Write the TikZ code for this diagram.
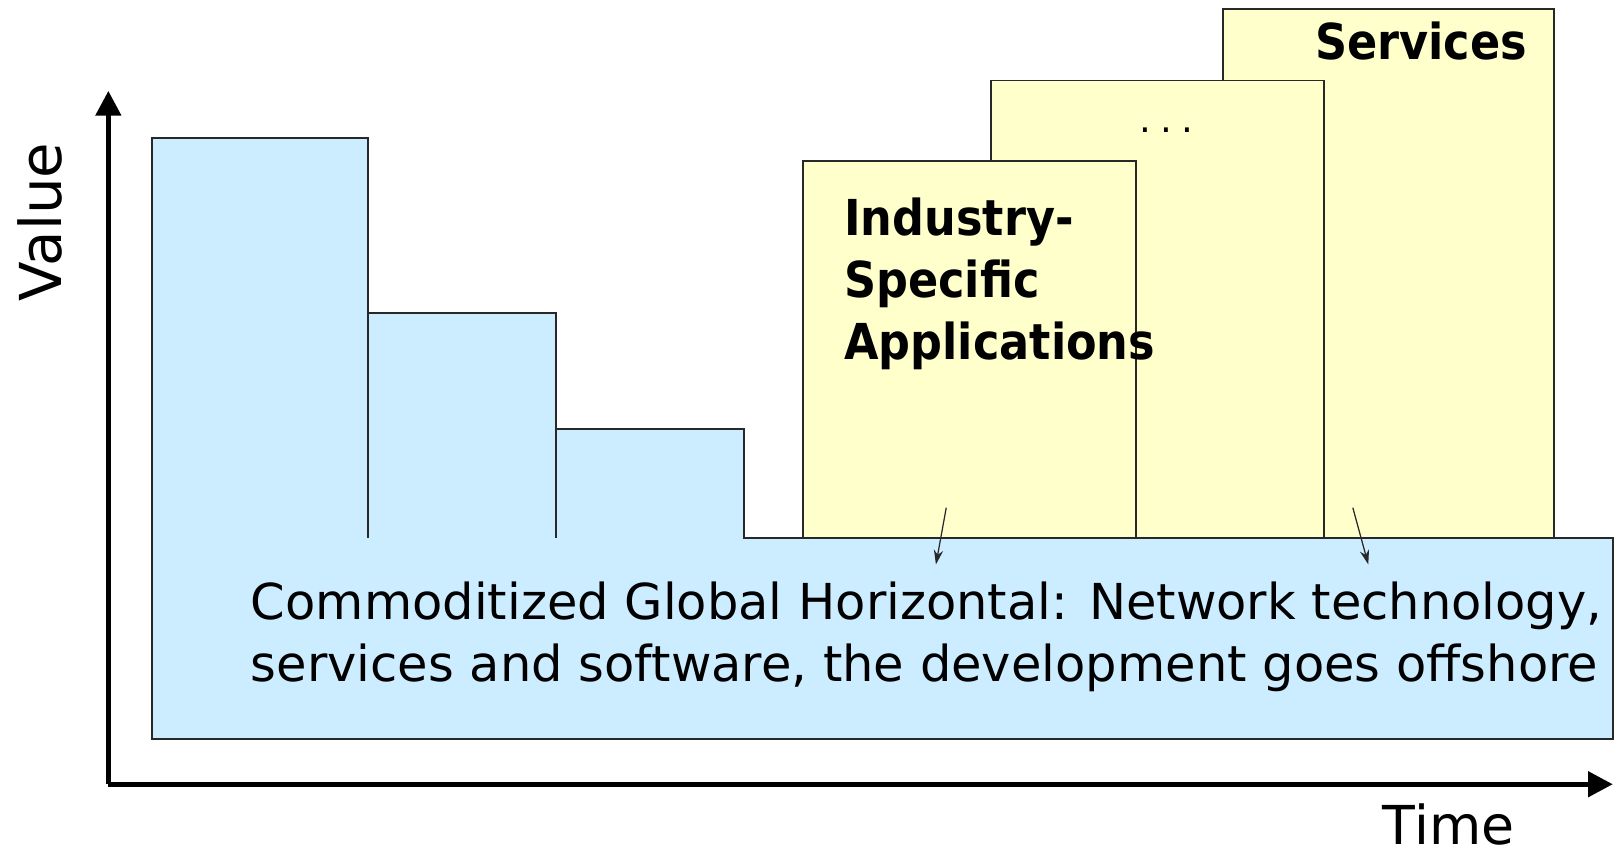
\documentclass[tikz,border=0pt]{standalone}
\usepackage{fontspec}
\setmainfont{DejaVu Sans}
\usetikzlibrary{arrows.meta}
\definecolor{lblue}{RGB}{204,236,255}
\definecolor{lyellow}{RGB}{255,255,204}
\definecolor{edge}{RGB}{40,40,40}
\tikzset{
  ybox/.style={draw=edge, line width=1.8pt, fill=lyellow, anchor=north west, inner sep=0pt, outer sep=0pt},
  bfill/.style={fill=lblue, draw=none, anchor=north west, inner sep=0pt, outer sep=0pt},
  bedge/.style={draw=edge, line width=1.8pt},
  axis/.style={line width=5pt, -{Triangle[length=24pt,width=24pt]}},
  pointer/.style={line width=1.2pt, draw=edge, -{Stealth[length=14pt,width=9pt]}},
  blabel/.style={font=\fontsize{48}{60}\selectfont\bfseries, inner sep=0pt, anchor=base west, align=left},
}
\begin{document}
\begin{tikzpicture}[x=1pt,y=-1pt]
\useasboundingbox (0,0) rectangle (1568,828);
% yellow boxes
\node[ybox, minimum width=321pt, minimum height=512pt] (yc) at (1185,9) {};
\node[ybox, minimum width=323pt, minimum height=443pt] (yb) at (960,78) {};
\node[ybox, minimum width=323pt, minimum height=365pt] (ya) at (778,156) {};
% blue bars
\node[bfill, minimum width=210pt, minimum height=400pt] (b1) at (147,134) {};
\node[bfill, minimum width=182pt, minimum height=230pt] (b2) at (357,303) {};
\node[bfill, minimum width=182pt, minimum height=117pt] (b3) at (539,416) {};
\node[bfill, draw=edge, line width=1.8pt, minimum width=1416pt, minimum height=195pt] (h) at (147,521) {};
\fill[lblue] (148,518) rectangle (720.5,524);
\draw[bedge] (b1.south west |- h.north) -- (b1.north west) -- (b1.north east) -- (b1.east |- h.north);
\draw[bedge] (b2.north west) -- (b2.north east) -- (b2.east |- h.north);
\draw[bedge] (b3.north west) -- (b3.north east) -- (b3.east |- h.north);
% labels
\node[blabel] (lab) at (818,348) {\scalebox{0.9}[1]{Industry-}\\\scalebox{0.9}[1]{Specific}\\\scalebox{0.9}[1]{Applications}};
\node[font=\fontsize{36}{40}\selectfont, inner sep=0pt, anchor=base] (dots) at (1130,128) {.\hspace{9pt}.\hspace{9pt}.};
\node[blabel, anchor=base east] (serv) at (1480,58) {\scalebox{0.9}[1]{Services}};
\node[font=\fontsize{48}{60}\selectfont, inner sep=0pt, anchor=base west, align=left] (htext) at (243,660)
  {Commoditized Global Horizontal: Network technology,\\services and software, the development goes offshore};
% pointers
\coordinate (p1s) at (917,492); \coordinate (p1e) at (907,547);
\coordinate (p2s) at (1311,492); \coordinate (p2e) at (1326,547);
\draw[pointer] (p1s) -- (p1e);
\draw[pointer] (p2s) -- (p2e);
% axes
\coordinate (o) at (105,760);
\coordinate (ytip) at (105,88);
\coordinate (xtip) at (1563,760);
\draw[axis] (o) -- (ytip);
\draw[axis] (o) -- (xtip);
\node[font=\fontsize{56}{60}\selectfont, rotate=90, inner sep=0pt, anchor=base] (val) at (60,215) {Value};
\node[font=\fontsize{52}{56}\selectfont, inner sep=0pt, text depth=0pt, anchor=base west] (time) at (1340,818) {Time};
\end{tikzpicture}
\end{document}
